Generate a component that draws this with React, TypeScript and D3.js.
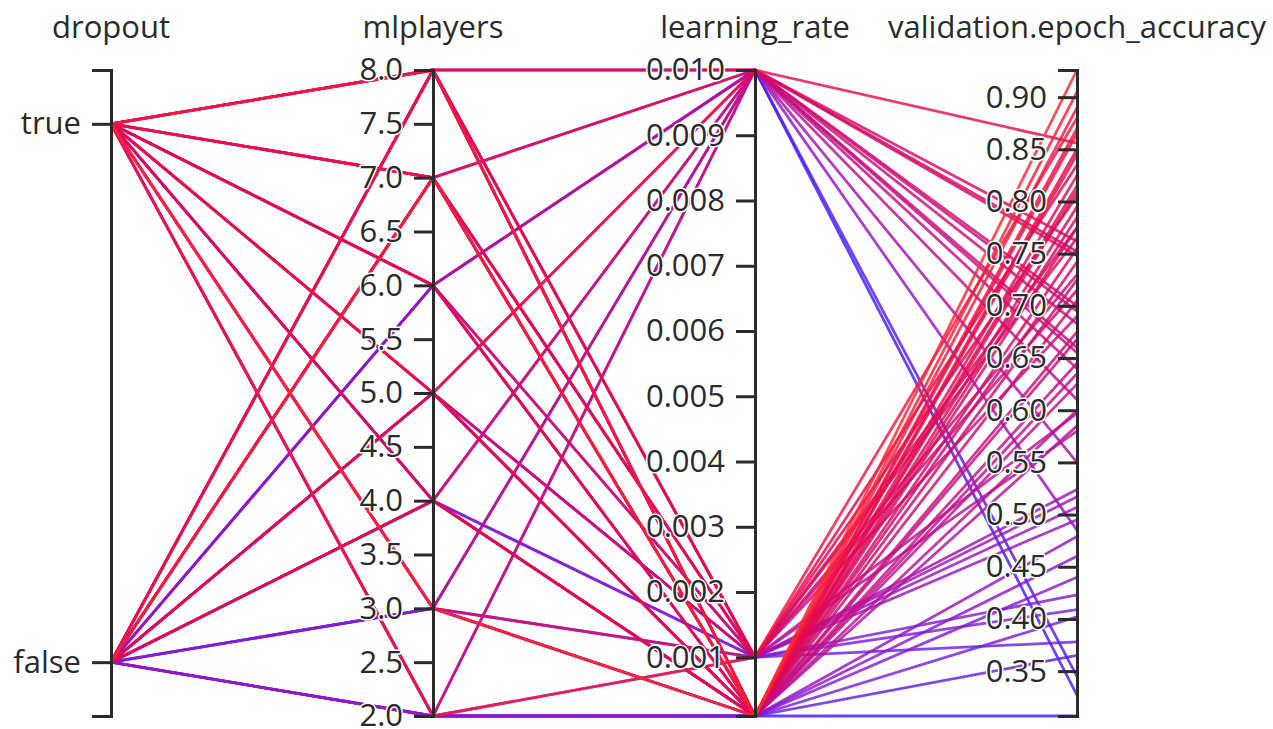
import React, { useEffect, useRef } from "react";
import * as d3 from "d3";

const dimensions = ["dropout", "mlplayers", "learning_rate", "validation.epoch_accuracy"];
const dropoutCategories = ["true", "false"];

const dropoutValues = [
  "true", "false", "true", "false", "false", "false", "true", "false", "true", "false", "true", "true", "false", "true", "true",
  "false", "true", "false", "false", "false", "true", "false", "false", "true", "true", "true", "true", "false", "true", "true", "false", "false",
  "false", "false", "true", "false", "false", "true", "false", "true", "false", "true", "true", "true", "false", "false", "true", "true", "false",
  "true", "true", "true", "true", "false", "true", "false", "false", "true", "false", "false", "true", "false",
];
const mlplayersValues = [
  8, 8, 7, 7, 6, 6, 6, 5, 5, 4, 4, 3, 3, 2, 2,
  4, 4, 3, 2, 5, 6, 7, 8, 5, 2, 3, 8, 7, 7, 6, 5, 8,
  2, 2, 2, 2, 6, 3, 7, 8, 8, 7, 6, 5, 5, 4, 4, 3, 7,
  8, 7, 6, 5, 4, 4, 8, 5, 3, 3, 7, 8, 4,
];
const learningRateValues = [
  0.01, 0.01, 0.01, 0.01, 0.01, 0.01, 0.01, 0.01, 0.01, 0.01, 0.01, 0.01, 0.01, 0.01, 0.01,
  0.001, 0.001, 0.001, 0.001, 0.001, 0.001, 0.001, 0.001, 0.001, 0.001, 0.001, 0.001, 0.001, 0.001, 0.001, 0.001, 0.001,
  0.0001, 0.0001, 0.0001, 0.0001, 0.0001, 0.0001, 0.0001, 0.0001, 0.0001, 0.0001, 0.0001, 0.0001, 0.0001, 0.0001, 0.0001, 0.0001, 0.0001,
  0.0001, 0.0001, 0.0001, 0.0001, 0.0001, 0.0001, 0.0001, 0.0001, 0.0001, 0.0001, 0.0001, 0.0001, 0.0001,
];
const accuracyValues = [
  0.752, 0.748, 0.762, 0.7, 0.485, 0.345, 0.61, 0.695, 0.856, 0.66, 0.64, 0.683, 0.327, 0.55, 0.655,
  0.423, 0.409, 0.378, 0.495, 0.507, 0.517, 0.524, 0.58, 0.597, 0.88, 0.73, 0.835, 0.805, 0.775, 0.715, 0.69, 0.765,
  0.307, 0.365, 0.402, 0.479, 0.46, 0.926, 0.905, 0.89, 0.87, 0.865, 0.845, 0.825, 0.815, 0.795, 0.785, 0.755, 0.742,
  0.725, 0.705, 0.675, 0.668, 0.635, 0.645, 0.625, 0.6, 0.585, 0.44, 0.85, 0.81, 0.775,
];

const colorStops = [0.307, 0.4, 0.5, 0.62, 0.75, 0.85, 0.926];
const colorRange = ["#3a1aff", "#7a1fe0", "#9a12bf", "#c0108c", "#d40a66", "#e80a48", "#ff2a35"];

const WIDTH = 1273;
const HEIGHT = 729;
const TOP = 70;
const BOTTOM = 716;
const FONT = "'Segoe UI', 'Open Sans', sans-serif";

export default function App() {
  const axesRef = useRef<SVGGElement | null>(null);

  const rows = accuracyValues.map((acc, i) => ({
    dropout: dropoutValues[i],
    mlplayers: mlplayersValues[i],
    learning_rate: learningRateValues[i],
    acc,
  }));

  const x = d3.scalePoint<string>().domain(dimensions).range([111, 1077]);
  const yDropout = d3.scalePoint<string>().domain(dropoutCategories).range([TOP, BOTTOM]).padding(0.1);
  const yMlp = d3.scaleLinear().domain(d3.extent(mlplayersValues) as [number, number]).range([BOTTOM, TOP]);
  const yLr = d3.scaleLinear().domain(d3.extent(learningRateValues) as [number, number]).range([BOTTOM, TOP]);
  const yAcc = d3.scaleLinear().domain(d3.extent(accuracyValues) as [number, number]).range([BOTTOM, TOP]);
  const color = d3.scaleLinear<string>().domain(colorStops).range(colorRange).interpolate(d3.interpolateRgb);

  const line = d3
    .line<[number, number]>()
    .x((d) => d[0])
    .y((d) => d[1]);

  const sorted = [...rows].sort((a, b) => a.acc - b.acc);

  useEffect(() => {
    if (!axesRef.current) return;
    const g = d3.select(axesRef.current);
    g.selectAll("*").remove();
    const axes: [string, any][] = [
      ["dropout", d3.axisLeft(yDropout)],
      ["mlplayers", d3.axisLeft(yMlp).tickFormat(yMlp.tickFormat(10) as any)],
      ["learning_rate", d3.axisLeft(yLr).tickFormat(yLr.tickFormat(10) as any)],
      ["validation.epoch_accuracy", d3.axisLeft(yAcc).tickFormat(yAcc.tickFormat(10) as any)],
    ];
    axes.forEach(([name, axis]) => {
      const ag = g.append("g").attr("transform", `translate(${x(name)},0)`);
      ag.call(axis.tickSize(19).tickSizeOuter(19).tickPadding(11));
      ag.select(".domain").attr("stroke", "#2b2b2b").attr("stroke-width", 3);
      ag.selectAll(".tick line").attr("stroke", "#2b2b2b").attr("stroke-width", 3);
      ag.selectAll(".tick text")
        .attr("font-family", FONT)
        .attr("font-size", 31)
        .attr("fill", "#2b2b2b")
        .attr("stroke", "#fff")
        .attr("stroke-width", 3)
        .attr("stroke-linejoin", "round")
        .attr("paint-order", "stroke");
      ag.attr("font-family", FONT).attr("font-size", 31);
      g.append("text")
        .attr("x", x(name)!)
        .attr("y", 38)
        .attr("text-anchor", "middle")
        .attr("font-family", FONT)
        .attr("font-size", 31)
        .attr("fill", "#2b2b2b")
        .text(name);
    });
  }, []);

  return (
    <svg
      width={WIDTH}
      height={HEIGHT}
      style={{ position: "absolute", left: 0, top: 0, background: "#fff" }}
    >
      <g fill="none">
        {sorted.map((r, i) => {
          const pts: [number, number][] = [
            [x("dropout")!, yDropout(r.dropout)!],
            [x("mlplayers")!, yMlp(r.mlplayers)],
            [x("learning_rate")!, yLr(r.learning_rate)],
            [x("validation.epoch_accuracy")!, yAcc(r.acc)],
          ];
          return (
            <path
              key={i}
              d={line(pts) || ""}
              stroke={color(r.acc)}
              strokeWidth={2.8}
              strokeOpacity={0.82}
              strokeLinejoin="round"
            />
          );
        })}
      </g>
      <g ref={axesRef} />
    </svg>
  );
}
